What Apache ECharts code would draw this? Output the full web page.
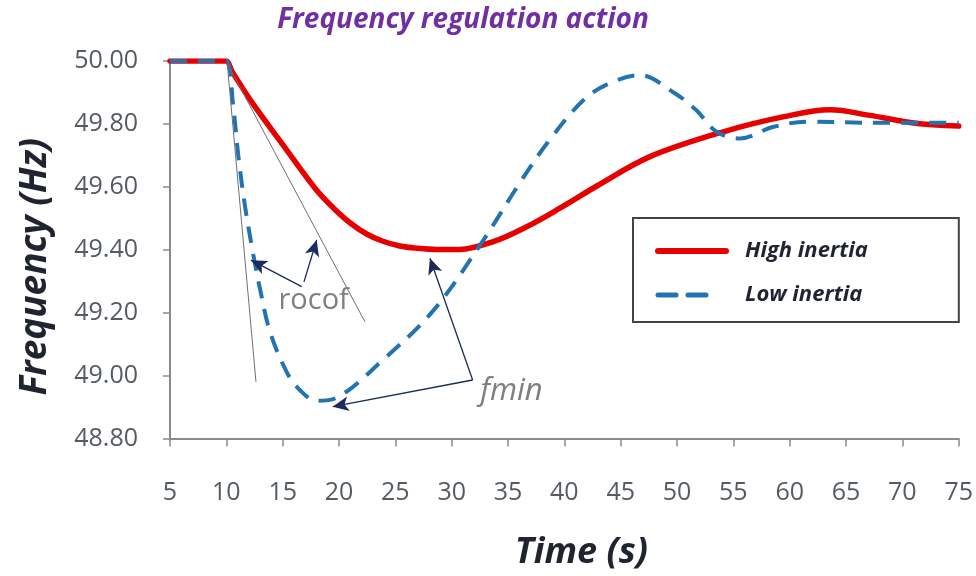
<!DOCTYPE html>
<html><head><meta charset="utf-8">
<script src="https://cdn.jsdelivr.net/npm/echarts@6/dist/echarts.min.js"></script>
<style>html,body{margin:0;padding:0;background:#fff}#c{width:976px;height:576px}</style>
</head><body><div id="c"></div>
<script>
// ---- data ----
const xTicks = [5,10,15,20,25,30,35,40,45,50,55,60,65,70,75];
const yTicks = [48.8,49.0,49.2,49.4,49.6,49.8,50.0];
const highTimes  = [5, 9, 10, 10.5, 12.4, 15.2, 18, 19.5, 21, 22.45, 23.9, 25.4, 26.9, 28.7, 30.7, 33.7, 36.65, 39.6, 43, 47.6, 54.1, 59.5, 63.6, 67, 71, 75];
const highValues = [50.00, 50.00, 50.00, 49.967, 49.862, 49.725, 49.59, 49.533, 49.485, 49.45, 49.427, 49.412, 49.405, 49.401, 49.401, 49.426, 49.473, 49.532, 49.605, 49.696, 49.775, 49.823, 49.845, 49.828, 49.803, 49.793];
const lowTimes  = [5, 9, 10, 10.6, 11.06, 11.65, 12.4, 12.98, 13.87, 15.35, 16.5, 18, 19.8, 23.9, 28.4, 32.8, 36, 38.5, 41.7, 44, 46.7, 49.7, 51.7, 53.5, 55.6, 58.5, 61.5, 67, 75];
const lowValues = [50.00, 50.00, 50.00, 49.86, 49.70, 49.54, 49.383, 49.277, 49.14, 49.012, 48.955, 48.92, 48.93, 49.05, 49.208, 49.43, 49.61, 49.74, 49.876, 49.929, 49.955, 49.90, 49.844, 49.775, 49.754, 49.79, 49.807, 49.804, 49.804];
const seriesNames = ['High inertia', 'Low inertia'];
// annotation anchors (data coordinates)
const rocofLines = [[[10.08, 49.993],[12.63, 48.98]], [[10.08, 49.993],[22.3, 49.171]]];
const rocofArrows = [[[16.69, 49.283],[12.19, 49.367]], [[16.89, 49.298],[18.02, 49.431]]];
const fminArrows = [[[31.86, 48.986],[19.44, 48.901]], [[31.86, 48.986],[28.07, 49.373]]];
const rocofLabel = [17.75, 49.238];
const fminLabel = [35.3, 48.95];
const actionArrow = [[10.6, 50.051],[61.1, 50.051]];

const pair = (ts, vs) => ts.map((t, i) => [t, vs[i]]);
const FONT = '"Open Sans", "Noto Sans", sans-serif';
const NAVY = '#1c2a5c';
const RED = '#e60000';
const BLUE = '#2273b0';

const chart = echarts.init(document.getElementById('c'), null, {renderer: 'canvas'});
chart.setOption({
  animation: false,
  backgroundColor: '#fff',
  title: {
    text: 'Frequency regulation action',
    left: 458, top: 1, textAlign: 'center',
    textStyle: {color: '#7030a0', fontFamily: FONT, fontStyle: 'italic', fontWeight: 'bold', fontSize: 28}
  },
  grid: {left: 170, right: 17, top: 61, bottom: 137.5},
  legend: {
    orient: 'vertical', left: 633, top: 218,
    data: [
      {name: seriesNames[0], itemStyle: {opacity: 0}, lineStyle: {color: RED, width: 6, type: 'solid', cap: 'round'}},
      {name: seriesNames[1], itemStyle: {opacity: 0}, lineStyle: {color: BLUE, width: 5, type: [18, 12, 18, 60], cap: 'round'}}
    ],
    itemWidth: 68, itemHeight: 26, itemGap: 22,
    padding: [22, 91, 16, 22],
    borderColor: '#444', borderWidth: 2,
    textStyle: {color: '#1f2430', fontFamily: FONT, fontStyle: 'italic', fontWeight: 'bold', fontSize: 22, padding: [0,0,0,14]}
  },
  xAxis: {
    type: 'value', min: 5, max: 75, interval: 5,
    name: 'Time (s)', nameLocation: 'middle', nameGap: 96,
    nameTextStyle: {color: '#1f2430', fontFamily: FONT, fontStyle: 'italic', fontWeight: 'bold', fontSize: 36, padding: [0,0,0,34]},
    axisLine: {lineStyle: {color: '#8a8a8a', width: 2}},
    axisTick: {length: 8, lineStyle: {color: '#8a8a8a', width: 1.5}},
    axisLabel: {color: '#555b63', fontFamily: FONT, fontSize: 25, margin: 42, formatter: v => xTicks.includes(v) ? String(v) : ''},
    splitLine: {show: false}
  },
  yAxis: {
    type: 'value', min: 48.8, max: 50.0, interval: 0.2,
    name: 'Frequency (Hz)', nameLocation: 'middle', nameGap: 116,
    nameTextStyle: {color: '#1f2430', fontFamily: FONT, fontStyle: 'italic', fontWeight: 'bold', fontSize: 37, padding: [0, 34, 0, 0]},
    axisLine: {show: true, lineStyle: {color: '#8a8a8a', width: 2}},
    axisTick: {show: true, length: 7, lineStyle: {color: '#8a8a8a', width: 1.5}},
    axisLabel: {color: '#555b63', fontFamily: FONT, fontSize: 25, margin: 32, formatter: v => v.toFixed(2)},
    splitLine: {show: false}
  },
  series: [
    {
      name: seriesNames[0], type: 'line', data: pair(highTimes, highValues),
      smooth: 0.35, showSymbol: false, symbol: 'none', z: 3,
      lineStyle: {color: RED, width: 5.5, cap: 'round'},
      itemStyle: {color: RED}
    },
    {
      name: seriesNames[1], type: 'line', data: pair(lowTimes, lowValues),
      smooth: 0.35, showSymbol: false, symbol: 'none', z: 4,
      lineStyle: {color: BLUE, width: 4, type: [17, 11]},
      itemStyle: {color: BLUE}
    },
    {
      type: 'line', data: [], clip: false, silent: true, z: 5,
      markLine: {
        silent: true, animation: false, label: {show: false},
        data: [
          ...rocofLines.map(l => [{coord: l[0], symbol: 'none', lineStyle: {color: '#6f6f6f', width: 1, type: 'solid'}}, {coord: l[1], symbol: 'none'}]),
          ...rocofArrows.concat(fminArrows).map(l => [{coord: l[0], symbol: 'none', lineStyle: {color: NAVY, width: 1.3, type: 'solid'}}, {coord: l[1], symbol: 'arrow', symbolSize: [11, 16]}]),
          [{coord: actionArrow[0], symbol: 'none', lineStyle: {color: '#7030a0', width: 6, type: [6, 5.5], cap: 'butt'}}, {coord: actionArrow[1], symbol: 'triangle', symbolSize: [17, 16]}]
        ],
        itemStyle: {color: NAVY}
      },
      markPoint: {
        silent: true, symbol: 'circle', symbolSize: 1, itemStyle: {color: 'rgba(0,0,0,0)'},
        data: [
          {coord: rocofLabel, label: {show: true, position: 'inside', formatter: 'rocof', color: '#7f7f7f', fontFamily: FONT, fontSize: 29}},
          {coord: fminLabel, label: {show: true, position: 'inside', formatter: 'fmin', color: '#7f7f7f', fontFamily: FONT, fontStyle: 'italic', fontSize: 31}}
        ]
      }
    }
  ]
});
</script></body></html>
